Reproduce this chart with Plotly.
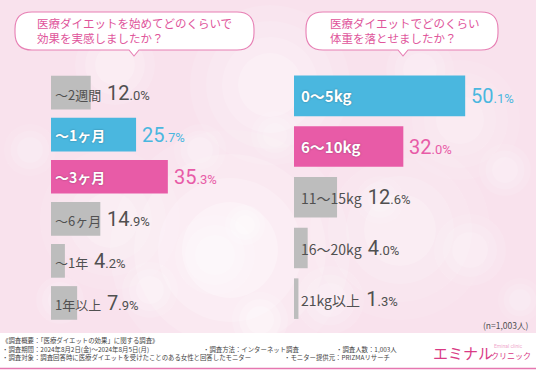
import plotly.graph_objects as go

# ---------------- data ----------------
left_categories = ["〜2週間", "〜1ヶ月", "〜3ヶ月", "〜6ヶ月", "〜1年", "1年以上"]
left_values = [12.0, 25.7, 35.3, 14.9, 4.2, 7.9]
right_categories = ["0〜5kg", "6〜10kg", "11〜15kg", "16〜20kg", "21kg以上"]
right_values = [50.1, 32.0, 12.6, 4.0, 1.3]
left_title = "医療ダイエットを始めてどのくらいで<br>効果を実感しましたか？"
right_title = "医療ダイエットでどのくらい<br>体重を落とせましたか？"
sample_note = "(n=1,003人)"
footer_lines = [
    "《調査概要：「医療ダイエットの効果」に関する調査》",
    "・調査期間：2024年8月2日(金)〜2024年8月5日(月)",
    "・調査対象：調査回答時に医療ダイエットを受けたことのある女性と回答したモニター",
]
footer_extra = [
    ("・調査方法：インターネット調査", 1),
    ("・調査人数：1,003人", 1),
    ("・モニター提供元：PRIZMAリサーチ", 2),
]

# ---------------- style ----------------
W, H = 536, 371
BLUE = "#4ab7df"
PINK = "#e85ba7"
GRAY = "#bdbdbd"
DARK = "#505050"
TITLE_PINK = "#e0559b"
JP = "Noto Sans CJK JP"
NUM = "Roboto"
left_highlight = {1: BLUE, 2: PINK}
right_highlight = {0: BLUE, 1: PINK}


def px(x):
    return x / W


def py(y):
    return 1 - y / H


fig = go.Figure()

fig.add_trace(go.Bar(
    x=left_values, y=left_categories, orientation="h",
    marker=dict(color=[left_highlight.get(i, GRAY) for i in range(len(left_values))], line=dict(width=0)),
    width=0.8, xaxis="x", yaxis="y", hoverinfo="skip", showlegend=False,
))
fig.add_trace(go.Bar(
    x=right_values, y=right_categories, orientation="h",
    marker=dict(color=[right_highlight.get(i, GRAY) for i in range(len(right_values))], line=dict(width=0)),
    width=0.8, xaxis="x2", yaxis="y2", hoverinfo="skip", showlegend=False,
))

annotations = []
shapes = []


def split_val(v):
    s = f"{v:.1f}"
    i, d = s.split(".")
    return i, d


def add_labels(cats, vals, highlight, xref, yref, xshift, lab_size, lab_size_hi):
    for k, (c, v) in enumerate(zip(cats, vals)):
        i, d = split_val(v)
        if k in highlight:
            col = highlight[k]
            annotations.append(dict(
                x=0, y=c, xref=xref, yref=yref, xanchor="left", yanchor="middle",
                xshift=xshift, showarrow=False, text=f"<b>{c}</b>",
                font=dict(family=JP, size=lab_size_hi, color="white",
                          shadow="0px 0px 2px rgba(0,0,0,0.35)"),
            ))
            annotations.append(dict(
                x=v, y=c, xref=xref, yref=yref, xanchor="left", yanchor="middle",
                xshift=4, showarrow=False,
                text=f"{i}<span style='font-size:13px'>.{d}%</span>",
                font=dict(family=NUM, size=20, color=col),
            ))
        else:
            annotations.append(dict(
                x=0, y=c, xref=xref, yref=yref, xanchor="left", yanchor="middle",
                xshift=xshift, showarrow=False,
                text=(f"{c}&nbsp;&nbsp;<span style='font-family:{NUM};font-size:20px'>{i}</span>"
                      f"<span style='font-family:{NUM};font-size:13px'>.{d}%</span>"),
                font=dict(family=JP, size=lab_size, color=DARK),
            ))


add_labels(left_categories, left_values, left_highlight, "x", "y", 2, 13, 14)
add_labels(right_categories, right_values, right_highlight, "x2", "y2", 5, 14, 15)

# ---------------- background bokeh ----------------
glow = [(230, 250, 120, 0.45), (110, 220, 70, 0.3), (400, 230, 90, 0.3), (270, 85, 80, 0.35),
        (460, 120, 60, 0.25)]
for cx, cy, r, op in glow:
    for f, o in ((1.0, op * 0.3), (0.8, op * 0.35), (0.6, op * 0.45), (0.4, op * 0.6)):
        rr = r * f
        shapes.append(dict(type="circle", xref="paper", yref="paper",
                           x0=px(cx - rr), x1=px(cx + rr), y0=py(cy + rr), y1=py(cy - rr),
                           fillcolor="white", opacity=o, line=dict(width=0), layer="below"))
bokeh = [
    (215, 255, 40, 0.4), (245, 225, 20, 0.5), (150, 290, 28, 0.35), (330, 300, 34, 0.3),
    (470, 250, 36, 0.3), (505, 170, 26, 0.3), (60, 300, 24, 0.3), (115, 65, 40, 0.35),
    (420, 70, 34, 0.3), (275, 135, 24, 0.3), (30, 150, 26, 0.25), (200, 150, 26, 0.3),
    (380, 200, 24, 0.25), (260, 320, 28, 0.45), (520, 300, 22, 0.25),
]
for cx, cy, r, op in bokeh:
    for f, o in ((1.0, op * 0.35), (0.75, op * 0.45), (0.5, op * 0.5)):
        rr = r * f
        shapes.append(dict(type="circle", xref="paper", yref="paper",
                           x0=px(cx - rr), x1=px(cx + rr), y0=py(cy + rr), y1=py(cy - rr),
                           fillcolor="white", opacity=o, line=dict(width=0), layer="below"))


# ---------------- speech bubbles ----------------
def bubble(x0, x1, y0, y1, tx, r=17, hw=5, depth=6):
    def P(x, y):
        return f"{px(x):.5f},{py(y):.5f}"
    d = (f"M {P(x0 + r, y0)} L {P(x1 - r, y0)} Q {P(x1, y0)} {P(x1, y0 + r)} "
         f"L {P(x1, y1 - r)} Q {P(x1, y1)} {P(x1 - r, y1)} "
         f"L {P(tx + hw, y1)} L {P(tx, y1 + depth)} L {P(tx - hw, y1)} "
         f"L {P(x0 + r, y1)} Q {P(x0, y1)} {P(x0, y1 - r)} "
         f"L {P(x0, y0 + r)} Q {P(x0, y0)} {P(x0 + r, y0)} Z")
    return dict(type="path", xref="paper", yref="paper", path=d,
                fillcolor="white", line=dict(color="#e77fb4", width=1.1), layer="above")


shapes.append(bubble(15, 254, 12, 50, 134))
shapes.append(bubble(306, 498, 12, 50, 403))

annotations.append(dict(x=px(35), y=py(30.5), xref="paper", yref="paper", xanchor="left",
                        yanchor="middle", align="left", showarrow=False, text=left_title,
                        font=dict(family=JP, size=11.5, color=TITLE_PINK)))
annotations.append(dict(x=px(328), y=py(30.5), xref="paper", yref="paper", xanchor="left",
                        yanchor="middle", align="left", showarrow=False, text=right_title,
                        font=dict(family=JP, size=11.5, color=TITLE_PINK)))

# ---------------- footer ----------------
shapes.append(dict(type="rect", xref="paper", yref="paper", x0=0, x1=1, y0=0, y1=py(333),
                   fillcolor="white", line=dict(width=0), layer="below"))
shapes.append(dict(type="line", xref="paper", yref="paper", x0=0, x1=1, y0=py(368.5), y1=py(368.5),
                   line=dict(color="#e677b1", width=1.5), layer="above"))

annotations.append(dict(x=px(531), y=py(325), xref="paper", yref="paper", xanchor="right",
                        yanchor="middle", showarrow=False, text=sample_note,
                        font=dict(family=JP, size=8.5, color=DARK)))

FOOT = 6.4
LH = 8.6
line_y = [340.5, 340.5 + LH, 340.5 + 2 * LH]
for t, yy in zip(footer_lines, line_y):
    annotations.append(dict(x=px(1), y=py(yy), xref="paper", yref="paper", xanchor="left",
                            yanchor="middle", showarrow=False, text=t, borderpad=0,
                            font=dict(family=JP, size=FOOT, color="#444444")))
extra_x = [202, 335, 283]
for (t, ln), xx in zip(footer_extra, extra_x):
    annotations.append(dict(x=px(xx), y=py(line_y[ln]), xref="paper", yref="paper", xanchor="left",
                            yanchor="middle", showarrow=False, text=t, borderpad=0,
                            font=dict(family=JP, size=FOOT, color="#444444")))

# logo
annotations.append(dict(x=px(431), y=py(352), xref="paper", yref="paper", xanchor="left",
                        yanchor="middle", showarrow=False, text="エミナル",
                        font=dict(family=JP, size=15, color="#d93a85")))
annotations.append(dict(x=px(489), y=py(355), xref="paper", yref="paper", xanchor="left",
                        yanchor="middle", showarrow=False, text="クリニック",
                        font=dict(family=JP, size=8, color="#d93a85")))
annotations.append(dict(x=px(492), y=py(346), xref="paper", yref="paper", xanchor="left",
                        yanchor="middle", showarrow=False, text="Eminal clinic",
                        font=dict(family=NUM, size=5, color="#f0a9cc")))

fig.update_layout(
    width=W, height=H,
    margin=dict(l=0, r=0, t=0, b=0),
    paper_bgcolor="#f9e2ed",
    plot_bgcolor="rgba(0,0,0,0)",
    bargap=0.2,
    xaxis=dict(domain=[px(51), px(51 + 331)], range=[0, 100], visible=False, fixedrange=True),
    yaxis=dict(domain=[py(324), py(71.5)], type="category", categoryarray=left_categories,
               range=[len(left_categories) - 0.5, -0.5], visible=False, fixedrange=True),
    xaxis2=dict(domain=[px(294), px(294 + 205)], range=[0, 60], visible=False, fixedrange=True,
                anchor="y2"),
    yaxis2=dict(domain=[py(324), py(70.5)], type="category", categoryarray=right_categories,
                range=[len(right_categories) - 0.5, -0.5], visible=False, fixedrange=True,
                anchor="x2"),
    shapes=shapes,
    annotations=annotations,
    showlegend=False,
)

fig.write_html("out.html", config={"displayModeBar": False},
               post_script="document.body.style.margin='0';document.body.style.overflow='hidden';")
